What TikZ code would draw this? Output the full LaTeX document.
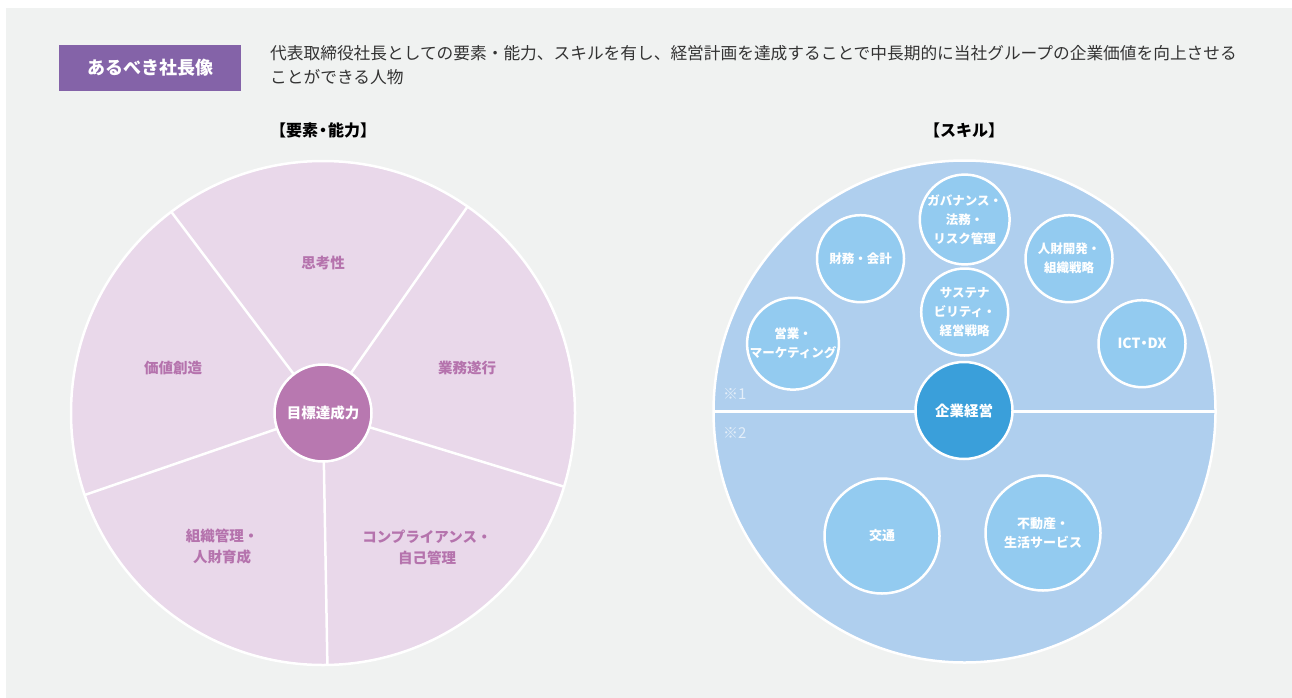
\documentclass[tikz,border=0pt]{standalone}
\usepackage{fontspec}
\setmainfont{Noto Sans CJK JP}
\definecolor{bgc}{HTML}{F0F2F1}
\definecolor{boxc}{HTML}{8463A8}
\definecolor{piefill}{HTML}{E9D8EA}
\definecolor{piecen}{HTML}{B878B0}
\definecolor{pielbl}{HTML}{B573AD}
\definecolor{skfill}{HTML}{AFCFEE}
\definecolor{sksmall}{HTML}{93CBF0}
\definecolor{skcen}{HTML}{3A9FDA}
\definecolor{txt}{HTML}{333333}
\begin{document}
\begin{tikzpicture}[x=1pt,y=-1pt,
  pielabel/.style={font=\fontsize{14.5}{21}\selectfont\bfseries, text=pielbl, align=center, inner sep=0pt},
  divider/.style={draw=white, line width=2.5pt},
  rim/.style={draw=white, line width=2.5pt},
  skillsmall/.style={circle, fill=sksmall, draw=white, line width=2.5pt, minimum size=87pt, inner sep=0pt, align=center, text=white, font=\fontsize{12.5}{19}\selectfont\bfseries},
  skillbig/.style={circle, fill=sksmall, draw=white, line width=2.5pt, minimum size=115pt, inner sep=0pt, align=center, text=white, font=\fontsize{13}{19}\selectfont\bfseries},
  hub/.style={circle, draw=white, line width=2.5pt, minimum size=97pt, inner sep=0pt, text=white, font=\fontsize{14.5}{18}\selectfont\bfseries},
  title/.style={font=\fontsize{16}{18}\selectfont\bfseries, text=black},
  note/.style={font=\fontsize{15}{16}\selectfont, text=white, opacity=0.65, anchor=west, inner sep=0pt}
]
\useasboundingbox (0,0) rectangle (1292,698);
\fill[bgc] (6,8) rectangle (1292,698);

% header
\node[fill=boxc, minimum width=182pt, minimum height=46pt, inner sep=0pt, text=white, font=\fontsize{18}{18}\selectfont\bfseries] (head) at (150,68) {あるべき社長像};
\node[anchor=north west, inner sep=0pt, align=left, text=txt, font=\fontsize{16.7}{24}\selectfont] (desc) at (270,45) {代表取締役社長としての要素・能力、スキルを有し、経営計画を達成することで中長期的に当社グループの企業価値を向上させる\\ことができる人物};

% titles
\node[title] (t1) at (323,130) {【要素\kern-3pt・\kern-3pt 能力】};
\node[title] (t2) at (964,130) {【スキル】};

% ---------- pie ----------
\coordinate (pc) at (323,413);
\path[fill=piefill, rim] (pc) circle[radius=252];
\coordinate (p1) at (467.5,206.6);
\coordinate (p2) at (171.3,211.8);
\coordinate (p3) at (84.7,495.0);
\coordinate (p4) at (327.4,665.0);
\coordinate (p5) at (564.0,486.7);
\foreach \p in {p1,p2,p3,p4,p5} \draw[divider] (pc) -- (\p);
\node[hub, fill=piecen, font=\fontsize{14.5}{18}\selectfont\bfseries] (goal) at (pc) {目標達成力};

\node[pielabel] (l1) at (323,263) {思考性};
\node[pielabel] (l2) at (467,368) {業務遂行};
\node[pielabel] (l3) at (173,368) {価値創造};
\node[pielabel] (l4) at (222,547) {組織管理・\\人財育成};
\node[pielabel] (l5) at (427,547) {コンプライアンス・\\自己管理};

% ---------- skills ----------
\coordinate (sc) at (964.5,411.5);
\path[fill=skfill, rim] (sc) circle[radius=251];
\coordinate (sl) at (713.5,411.5);
\coordinate (sr) at (1215.5,411.5);
\draw[divider] (sl) -- (sr);

\node[skillsmall] (fin) at (860.5,258.7) {財務・会計};
\node[skillsmall] (gov) at (964.7,219.5) {ガバナンス・\\法務・\\リスク管理};
\node[skillsmall] (hr) at (1069,258.7) {人財開発・\\組織戦略};
\node[skillsmall] (sus) at (964.7,312) {サステナ\\ビリティ・\\経営戦略};
\node[skillsmall] (mkt) at (793,343.7) {営業・\\マーケティング};
\node[skillsmall, font=\fontsize{14}{19}\selectfont\bfseries] (ict) at (1142,343.7) {ICT\kern-3.5pt・\kern-3.5pt DX};
\node[skillbig] (trans) at (882,536) {交通};
\node[skillbig] (real) at (1043,533) {不動産・\\生活サービス};
\node[hub, fill=skcen] (corp) at (964,410.5) {企業経営};

\node[note] (n1) at (723,394) {※1};
\node[note] (n2) at (723,433) {※2};
\end{tikzpicture}
\end{document}
